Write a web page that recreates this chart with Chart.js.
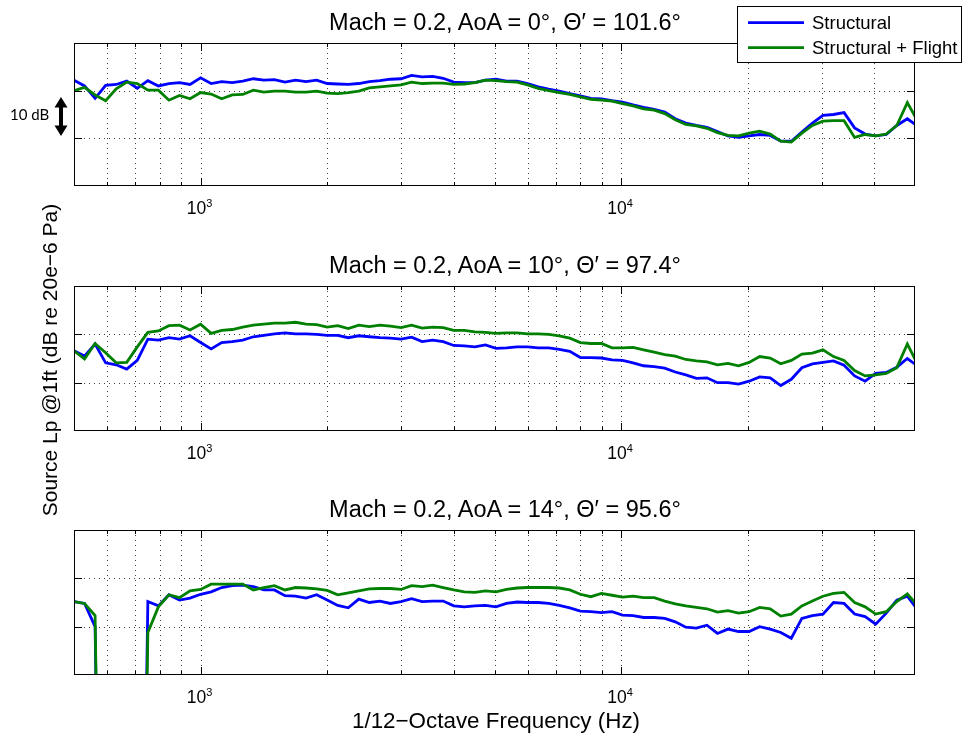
<!DOCTYPE html>
<html>
<head>
<meta charset="utf-8">
<script src="https://cdn.jsdelivr.net/npm/chart.js@4.4.0/dist/chart.umd.min.js"></script>
<style>
  body { margin: 0; background: #fff; }
  #wrap { position: relative; width: 965px; height: 738px; overflow: hidden; background: #fff; }
  #wrap canvas { position: absolute; left: 0; }
  #ov { position: absolute; left: 0; top: 0; pointer-events: none; font-family: "Liberation Sans", Arial, Helvetica, sans-serif; }
</style>
</head>
<body>
<div id="wrap">
  <canvas id="c0" width="965" height="230"></canvas>
  <canvas id="c1" width="965" height="230"></canvas>
  <canvas id="c2" width="965" height="230"></canvas>
  <svg id="ov" width="965" height="738" xmlns="http://www.w3.org/2000/svg"></svg>
</div>
<script>
// 1/12-octave band centres (Hz)
const freqs = [500, 529.7, 561.2, 594.6, 630, 667.4, 707.1, 749.2, 793.7, 840.9, 890.9, 943.9,
  1000, 1059.5, 1122.5, 1189.2, 1259.9, 1334.8, 1414.2, 1498.3, 1587.4, 1681.8, 1781.8, 1887.7,
  2000, 2119, 2245, 2378, 2520, 2670, 2828, 2997, 3175, 3364, 3564, 3775,
  4000, 4238, 4490, 4757, 5040, 5339, 5657, 5993, 6350, 6727, 7127, 7551,
  8000, 8476, 8980, 9514, 10079, 10679, 11314, 11986, 12699, 13454, 14254, 15102,
  16000, 16951, 17959, 19027, 20159, 21357, 22627, 23973, 25398, 26909, 28509, 30204,
  32000, 33903, 35919, 38055, 40317, 42715, 45255, 47946, 50797];

const seriesNames = ['Structural', 'Structural + Flight'];
const seriesColors = ['#0000ff', '#008000'];

const titles = [
  'Mach = 0.2, AoA = 0°, Θ′ = 101.6°',
  'Mach = 0.2, AoA = 10°, Θ′ = 97.4°',
  'Mach = 0.2, AoA = 14°, Θ′ = 95.6°'
];

// AoA = 0
const aoa0Struct = [52.2, 51.0, 48.4, 51.1, 51.3, 52.0, 50.5, 52.1, 51.0, 51.5, 51.7, 51.3,
  52.7, 51.5, 51.9, 51.7, 52.0, 52.5, 52.2, 52.3, 51.8, 52.2, 51.9, 52.2,
  51.5, 51.4, 51.3, 51.5, 51.9, 52.1, 52.4, 52.5, 53.2, 52.9, 53.0, 52.6,
  51.8, 51.7, 51.7, 52.2, 52.4, 52.0, 52.0, 51.5, 50.8, 50.3, 49.9, 49.4,
  48.9, 48.4, 48.3, 47.9, 47.6, 47.0, 46.5, 46.1, 45.5, 44.1, 43.2, 42.7,
  42.3, 41.4, 40.5, 40.2, 40.5, 40.8, 40.6, 39.4, 39.4, 41.3, 43.2, 44.8,
  45.0, 45.4, 42.2, 40.9, 40.5, 40.8, 42.7, 44.1, 42.5];
const aoa0Flight = [50.0, 50.7, 49.1, 47.9, 50.4, 51.8, 51.5, 50.1, 50.1, 48.0, 49.0, 48.3,
  49.6, 49.3, 48.3, 49.1, 49.2, 50.1, 49.7, 49.9, 49.9, 49.7, 49.7, 49.9,
  49.5, 49.4, 49.6, 49.9, 50.6, 50.8, 51.0, 51.2, 51.8, 51.5, 51.6, 51.6,
  51.3, 51.4, 51.7, 52.2, 52.1, 51.9, 51.8, 51.2, 50.5, 50.0, 49.6, 49.2,
  48.7, 48.2, 48.0, 47.8, 47.3, 46.8, 46.2, 45.9, 45.2, 43.9, 42.9, 42.6,
  42.1, 41.2, 40.6, 40.5, 41.1, 41.5, 40.9, 39.4, 39.2, 41.1, 42.7, 43.6,
  43.7, 43.7, 40.2, 40.8, 40.5, 40.9, 42.7, 47.5, 43.5];

// AoA = 10
const aoa10Struct = [46.6, 45.5, 48.0, 44.1, 43.7, 42.8, 44.6, 49.0, 48.8, 49.3, 49.0, 49.7,
  48.3, 47.0, 48.3, 48.5, 48.8, 49.5, 49.8, 50.1, 50.3, 50.1, 50.1, 50.0,
  49.8, 49.8, 49.3, 49.7, 49.5, 49.3, 49.2, 49.0, 49.4, 48.5, 48.8, 48.5,
  47.7, 47.6, 47.4, 47.8, 47.1, 47.2, 47.4, 47.4, 47.2, 47.2, 46.9, 46.5,
  45.2, 45.2, 45.1, 44.7, 44.6, 44.1, 43.5, 43.3, 43.0, 42.2, 41.6, 40.9,
  41.0, 40.0, 40.0, 39.7, 40.3, 41.2, 41.0, 39.4, 40.7, 43.1, 43.9, 44.2,
  44.5, 43.6, 41.4, 40.3, 41.9, 42.1, 43.2, 45.0, 43.4];
const aoa10Flight = [46.6, 44.9, 48.1, 46.2, 44.1, 44.2, 47.4, 50.4, 50.7, 51.8, 51.9, 50.9,
  52.1, 50.2, 50.8, 51.0, 51.5, 51.9, 52.1, 52.3, 52.3, 52.5, 52.1, 52.0,
  51.5, 51.8, 51.2, 51.9, 51.6, 51.9, 51.7, 51.4, 51.9, 51.3, 51.5, 51.4,
  50.8, 50.8, 50.5, 50.4, 50.2, 50.3, 50.3, 50.1, 50.1, 50.0, 49.7, 49.2,
  48.3, 48.1, 48.1, 47.2, 47.2, 47.3, 46.8, 46.3, 45.8, 45.5, 44.8, 44.5,
  44.3, 43.7, 44.0, 43.5, 44.2, 45.4, 45.1, 43.9, 44.6, 45.9, 46.1, 46.8,
  45.4, 44.6, 42.5, 41.4, 41.6, 41.9, 43.1, 48.0, 43.7];

// AoA = 14 (-100 = no level in those bands, drops off the plot)
const aoa14Struct = [45.2, 44.8, 40.0, -100, -100, -100, -100, 45.2, 44.3, 46.6, 45.5, 45.9,
  46.7, 47.2, 48.1, 48.5, 48.6, 48.3, 47.6, 47.6, 46.4, 46.3, 45.9, 46.6,
  45.5, 44.4, 43.9, 45.7, 45.0, 45.3, 44.8, 45.2, 45.8, 45.2, 45.3, 45.3,
  44.3, 44.1, 44.3, 44.4, 44.1, 44.8, 45.1, 45.0, 45.0, 44.8, 44.4, 43.9,
  43.2, 43.1, 42.9, 43.1, 42.4, 42.3, 41.9, 41.9, 41.7, 41.0, 39.9, 39.7,
  40.3, 38.6, 39.5, 39.0, 39.0, 40.0, 39.5, 38.8, 37.6, 41.7, 42.3, 42.6,
  45.0, 44.8, 42.6, 42.1, 40.5, 42.8, 45.5, 46.3, 43.4];
const aoa14Flight = [45.2, 44.8, 42.3, -100, -100, -100, -100, 38.8, 44.1, 46.6, 46.0, 47.4,
  47.7, 48.8, 48.8, 48.8, 48.8, 47.6, 48.1, 48.5, 47.6, 48.1, 48.0, 47.8,
  47.5, 46.6, 47.0, 47.4, 47.8, 47.9, 47.9, 47.7, 48.5, 48.3, 48.6, 48.1,
  47.6, 47.2, 47.1, 47.4, 47.2, 47.7, 48.0, 48.1, 48.1, 48.1, 48.0, 47.6,
  46.7, 46.2, 46.9, 46.5, 46.1, 46.3, 46.0, 46.0, 45.3, 44.7, 44.3, 44.0,
  43.7, 43.0, 43.3, 42.8, 43.1, 44.0, 43.7, 42.2, 42.6, 44.3, 45.3, 46.3,
  46.9, 47.1, 45.0, 44.1, 42.6, 43.1, 45.2, 46.8, 44.3];

const xMajorTicks = [1000, 10000];
const xMinorTicks = [600, 700, 800, 900, 2000, 3000, 4000, 5000, 6000, 7000, 8000, 9000, 20000, 30000, 40000];
const yGridTicks = [40, 50];

const panelData = [[aoa0Struct, aoa0Flight], [aoa10Struct, aoa10Flight], [aoa14Struct, aoa14Flight]];

// canvas placement and plot box (page pixels)
const canvasTops = [0, 240, 485];
const boxes = [{ top: 43, bottom: 186 }, { top: 286, bottom: 431 }, { top: 530, bottom: 675 }];
const boxLeft = 74, boxRight = 915, canvasH = 230;

// matlab-like axes: dotted grid, box, inward ticks
const matlabAxes = {
  id: 'matlabAxes',
  beforeDatasetsDraw(chart) {
    const { ctx, chartArea: a } = chart;
    const xs = chart.scales.x, ys = chart.scales.y;
    ctx.save();
    ctx.strokeStyle = 'rgba(0,0,0,0.75)';
    ctx.lineWidth = 1;
    ctx.setLineDash([1, 4]);
    ctx.beginPath();
    xMinorTicks.concat(xMajorTicks).forEach(v => {
      const x = Math.round(xs.getPixelForValue(v)) + 0.5;
      ctx.moveTo(x, a.top);
      ctx.lineTo(x, a.bottom);
    });
    yGridTicks.forEach(v => {
      const y = Math.round(ys.getPixelForValue(v)) + 0.5;
      ctx.moveTo(a.left, y);
      ctx.lineTo(a.right, y);
    });
    ctx.stroke();
    ctx.restore();
  },
  afterDatasetsDraw(chart) {
    const { ctx, chartArea: a } = chart;
    const xs = chart.scales.x, ys = chart.scales.y;
    ctx.save();
    ctx.strokeStyle = '#000';
    ctx.lineWidth = 1;
    ctx.beginPath();
    const tick = (v, len) => {
      const x = Math.round(xs.getPixelForValue(v)) + 0.5;
      ctx.moveTo(x, a.bottom); ctx.lineTo(x, a.bottom - len);
      ctx.moveTo(x, a.top); ctx.lineTo(x, a.top + len);
    };
    xMinorTicks.forEach(v => tick(v, 4));
    xMajorTicks.forEach(v => tick(v, 8));
    yGridTicks.forEach(v => {
      const y = Math.round(ys.getPixelForValue(v)) + 0.5;
      ctx.moveTo(a.left, y); ctx.lineTo(a.left + 8, y);
      ctx.moveTo(a.right, y); ctx.lineTo(a.right - 8, y);
    });
    ctx.stroke();
    ctx.strokeRect(a.left + 0.5, a.top + 0.5, a.right - a.left - 1, a.bottom - a.top - 1);
    ctx.restore();
  }
};

const charts = panelData.map((pair, p) => {
  const cv = document.getElementById('c' + p);
  cv.style.top = canvasTops[p] + 'px';
  return new Chart(cv, {
    type: 'line',
    data: {
      datasets: pair.map((vals, s) => ({
        label: seriesNames[s],
        data: freqs.map((f, i) => ({ x: f, y: vals[i] })),
        borderColor: seriesColors[s],
        borderWidth: 2.8,
        pointRadius: 0,
        tension: 0,
        fill: false,
        order: s === 1 ? 0 : 1
      }))
    },
    options: {
      responsive: false,
      animation: false,
      events: [],
      layout: {
        padding: {
          left: boxLeft,
          right: 965 - boxRight,
          top: boxes[p].top - canvasTops[p],
          bottom: canvasTops[p] + canvasH - boxes[p].bottom
        }
      },
      scales: {
        x: { type: 'logarithmic', min: 500, max: 50000, display: false },
        y: { type: 'linear', min: 30, max: 60, display: false }
      },
      plugins: { legend: { display: false }, tooltip: { enabled: false } }
    },
    plugins: [matlabAxes]
  });
});

// text and annotations as svg
const NS = 'http://www.w3.org/2000/svg';
const ov = document.getElementById('ov');
function el(tag, attrs, text) {
  const e = document.createElementNS(NS, tag);
  for (const k in attrs) e.setAttribute(k, attrs[k]);
  if (text !== undefined) e.textContent = text;
  ov.appendChild(e);
  return e;
}

charts.forEach((chart, p) => {
  const top = canvasTops[p];
  const a = chart.chartArea;
  el('text', { x: 505, y: top + a.top - 13, 'text-anchor': 'middle', 'font-size': 23.5 }, titles[p]);
  xMajorTicks.forEach(v => {
    const x = chart.scales.x.getPixelForValue(v);
    const t = el('text', { x: x - 1, y: top + a.bottom + 28, 'text-anchor': 'middle', 'font-size': 17.5 });
    const base = document.createElementNS(NS, 'tspan');
    base.textContent = '10';
    const sup = document.createElementNS(NS, 'tspan');
    sup.setAttribute('dy', -7.5);
    sup.setAttribute('font-size', 11);
    sup.textContent = String(Math.round(Math.log10(v)));
    t.appendChild(base);
    t.appendChild(sup);
  });
});

el('text', { x: 496, y: 728, 'text-anchor': 'middle', 'font-size': 22.4 }, '1/12−Octave Frequency (Hz)');
el('text', { transform: 'translate(56.5,360) rotate(-90)', 'text-anchor': 'middle', 'font-size': 21 }, 'Source Lp @1ft (dB re 20e−6 Pa)');

// 10 dB scale marker
el('text', { x: 10, y: 120, 'font-size': 15, 'font-family': 'Lato, "Liberation Sans", sans-serif' }, '10 dB');
el('path', { d: 'M61,97 L67.5,107.5 L63,107.5 L63,125.5 L67.5,125.5 L61,136 L54.5,125.5 L59,125.5 L59,107.5 L54.5,107.5 Z', fill: '#000' });

// legend
el('rect', { x: 737.5, y: 6.5, width: 224, height: 56, fill: '#fff', stroke: '#000', 'stroke-width': 1 });
seriesNames.forEach((name, s) => {
  const y = 22.7 + s * 25;
  el('line', { x1: 748, x2: 804, y1: y, y2: y, stroke: seriesColors[s], 'stroke-width': 2.8 });
  el('text', { x: 812, y: 29 + s * 25, 'font-size': 18.5 }, name);
});
</script>
</body>
</html>
